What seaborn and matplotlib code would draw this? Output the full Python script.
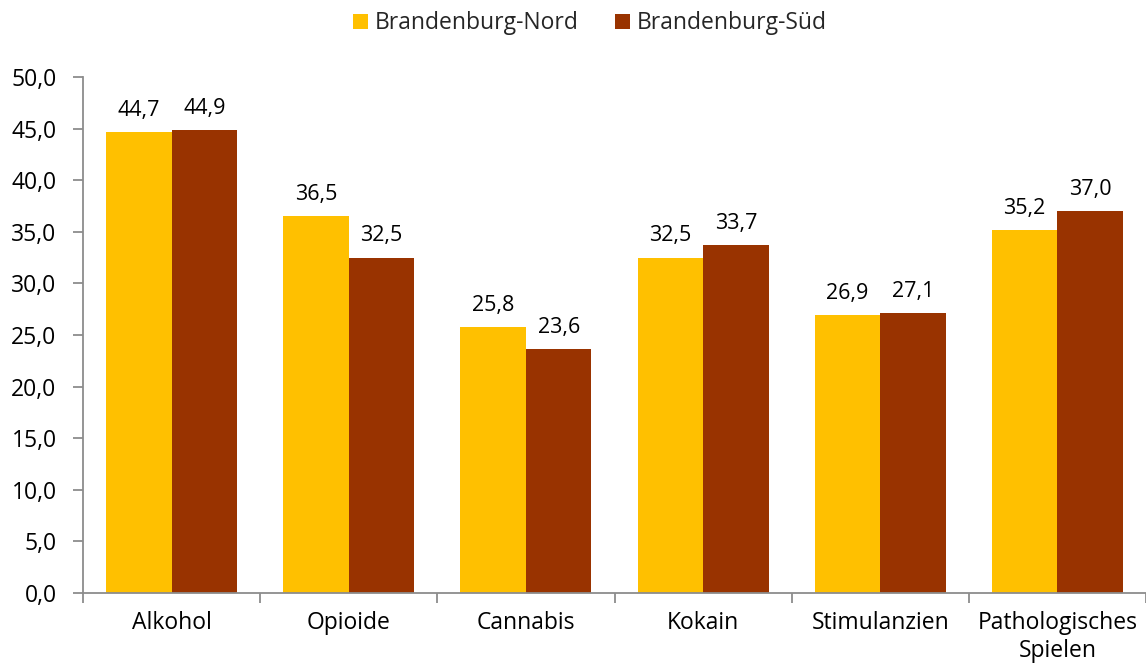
import matplotlib
matplotlib.use("Agg")
import matplotlib.pyplot as plt
import seaborn as sns
import pandas as pd
from matplotlib.ticker import FixedLocator, MultipleLocator, FuncFormatter

categories = ["Alkohol", "Opioide", "Cannabis", "Kokain", "Stimulanzien", "Pathologisches\nSpielen"]
series_names = ["Brandenburg-Nord", "Brandenburg-Süd"]
nord = [44.7, 36.5, 25.8, 32.5, 26.9, 35.2]
sued = [44.9, 32.5, 23.6, 33.7, 27.1, 37.0]
colors = ["#FFC000", "#993300"]

df = pd.DataFrame({
    "Kategorie": categories * 2,
    "Region": [series_names[0]] * len(categories) + [series_names[1]] * len(categories),
    "Wert": nord + sued,
})

sns.set_theme(style="white")
plt.rcParams["font.family"] = ["Open Sans", "DejaVu Sans"]

fig = plt.figure(figsize=(11.46, 6.70), dpi=100)
ax = fig.add_axes([83 / 1146, 1 - 593 / 670, 1 - 83 / 1146, (593 - 77) / 670])

sns.barplot(data=df, x="Kategorie", y="Wert", hue="Region", palette=colors,
            width=0.74, gap=0, ax=ax, errorbar=None, saturation=1, linewidth=0)

for cont in ax.containers:
    ax.bar_label(cont, labels=[f"{v:.1f}".replace(".", ",") for v in cont.datavalues],
                 padding=8, fontsize=15.5, color="#000000")

ax.set_ylim(0, 50)
ax.set_xlim(-0.5, len(categories) - 0.5)
ax.yaxis.set_major_locator(MultipleLocator(5))
ax.yaxis.set_major_formatter(FuncFormatter(lambda v, p: f"{v:.1f}".replace(".", ",")))
ax.set_xlabel("")
ax.set_ylabel("")

axis_color = "#8C8C8C"
for side in ["top", "right"]:
    ax.spines[side].set_visible(False)
for side in ["left", "bottom"]:
    ax.spines[side].set_color(axis_color)
    ax.spines[side].set_linewidth(1.3)

ax.tick_params(axis="y", which="major", direction="out", length=7, width=1.3,
               color=axis_color, labelsize=16.5, pad=12, left=True, labelcolor="#000000")
ax.tick_params(axis="x", which="major", length=0, labelsize=16.5, pad=13, labelcolor="#000000")
ax.xaxis.set_minor_locator(FixedLocator([i - 0.5 for i in range(len(categories) + 1)]))
ax.tick_params(axis="x", which="minor", direction="out", length=7, width=1.3,
               color=axis_color, bottom=True)
for lbl in ax.get_xticklabels():
    lbl.set_linespacing(1.2)

handles, labels = ax.get_legend_handles_labels()
ax.legend(handles, labels, loc="upper center", bbox_to_anchor=(590 / 1146, 1.0),
          bbox_transform=fig.transFigure, ncol=2, frameon=False, fontsize=16.5,
          handlelength=0.65, handleheight=0.65, handletextpad=0.3, columnspacing=1.6,
          borderaxespad=0.1)

fig.savefig("out.png", dpi=100)
